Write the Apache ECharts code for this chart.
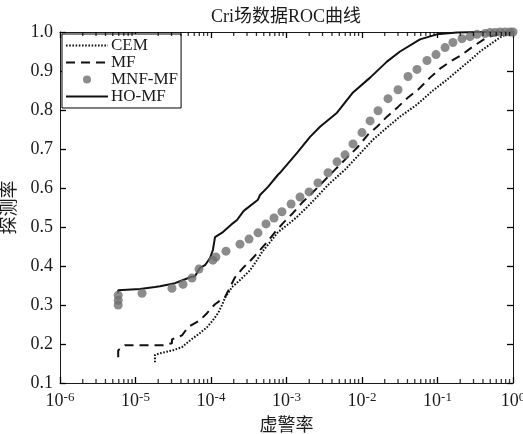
<!DOCTYPE html>
<html>
<head>
<meta charset="utf-8">
<script src="https://cdn.jsdelivr.net/npm/echarts@6/dist/echarts.min.js"></script>
<style>
html,body{margin:0;padding:0;background:#fff;}
#chart{width:523px;height:434px;}
</style>
</head>
<body>
<div id="chart"></div>
<script>
// ---- data (false alarm rate, detection rate) ----
const cemX = [1.81e-5,1.81e-5,2.11e-5,3.14e-5,4.13e-5,4.96e-5,5.78e-5,7.15e-5,8.85e-5,1.06e-4,1.24e-4,1.40e-4,1.53e-4,1.90e-4,2.42e-4,3.29e-4,4.07e-4,4.73e-4,6.04e-4,7.71e-4,1.02e-3,1.38e-3,1.87e-3,2.53e-3,3.55e-3,5.96e-3,8.59e-3,1.40e-2,2.14e-2,3.19e-2,5.35e-2,8.71e-2,0.134,0.199,0.269,0.366,0.496,0.673,0.833,1];
const cemY = [0.153,0.172,0.176,0.184,0.192,0.205,0.215,0.228,0.243,0.261,0.279,0.300,0.318,0.346,0.364,0.389,0.415,0.436,0.461,0.487,0.505,0.526,0.551,0.577,0.608,0.647,0.680,0.724,0.755,0.783,0.814,0.850,0.878,0.906,0.927,0.950,0.968,0.986,0.996,1.0];

const mfX = [5.9e-6,5.9e-6,7.3e-6,2.31e-5,3.04e-5,3.04e-5,4.13e-5,4.96e-5,7.15e-5,8.85e-5,1.13e-4,1.53e-4,2.08e-4,2.65e-4,3.49e-4,4.46e-4,5.52e-4,7.05e-4,9.0e-4,1.22e-3,1.60e-3,2.18e-3,2.95e-3,4.39e-3,6.33e-3,8.59e-3,1.2e-2,1.58e-2,2.14e-2,3.0e-2,4.07e-2,5.52e-2,7.96e-2,0.108,0.147,0.211,0.295,0.453,0.673,1];
const mfY = [0.166,0.184,0.197,0.197,0.202,0.212,0.222,0.243,0.261,0.279,0.302,0.320,0.371,0.395,0.418,0.441,0.461,0.487,0.510,0.536,0.562,0.587,0.613,0.647,0.678,0.703,0.737,0.757,0.783,0.808,0.832,0.852,0.883,0.906,0.924,0.942,0.963,0.986,0.996,1.0];

const mnfX = [5.9e-6,5.9e-6,5.9e-6,1.22e-5,3.04e-5,4.26e-5,5.6e-5,6.93e-5,1.06e-4,1.16e-4,1.58e-4,2.42e-4,3.19e-4,4.19e-4,5.35e-4,6.83e-4,8.7e-4,1.15e-3,1.51e-3,1.99e-3,2.61e-3,3.55e-3,4.67e-3,5.96e-3,7.6e-3,1.0e-2,1.28e-2,1.63e-2,2.21e-2,3.0e-2,4.07e-2,5.35e-2,7.26e-2,9.55e-2,0.126,0.160,0.211,0.269,0.333,0.426,0.496,0.578,0.673,0.784,0.912,1];
const mnfY = [0.300,0.312,0.325,0.330,0.343,0.353,0.369,0.392,0.415,0.423,0.438,0.456,0.469,0.485,0.508,0.523,0.539,0.559,0.577,0.590,0.613,0.639,0.667,0.685,0.713,0.742,0.772,0.798,0.829,0.852,0.886,0.904,0.927,0.942,0.960,0.973,0.983,0.988,0.994,0.996,0.999,0.999,1.0,1.0,1.0,1.0];

const hoX = [5.9e-6,5.9e-6,1.15e-5,1.81e-5,2.11e-5,3.34e-5,3.88e-5,4.53e-5,5.27e-5,6.14e-5,6.73e-5,7.15e-5,8.33e-5,9.7e-5,1.06e-4,1.13e-4,1.44e-4,1.96e-4,2.21e-4,2.65e-4,2.82e-4,4.19e-4,4.46e-4,5.69e-4,7.71e-4,8.2e-4,1.38e-3,2.05e-3,2.78e-3,4.67e-3,7.6e-3,1.28e-2,2.14e-2,3.19e-2,5.86e-2,9.85e-2,0.181,0.366,1];
const hoY = [0.330,0.338,0.341,0.346,0.348,0.356,0.361,0.366,0.371,0.374,0.387,0.395,0.402,0.420,0.441,0.474,0.487,0.510,0.518,0.539,0.544,0.570,0.582,0.603,0.634,0.639,0.690,0.731,0.757,0.793,0.845,0.883,0.924,0.950,0.981,0.994,0.999,1.0,1.0];

const seriesNames = ['CEM', 'MF', 'MNF-MF', 'HO-MF'];
const xExponents = [-6, -5, -4, -3, -2, -1, 0];
const minorMultipliers = [2, 3, 4, 5, 6, 7, 8, 9];
const yTickLabels = ['0.1','0.2','0.3','0.4','0.5','0.6','0.7','0.8','0.9','1.0'];
const titleText = 'Cri场数据ROC曲线';
const xName = '虚警率';
const yName = '探测率';

// ---- build ----
const zip = (xs, ys) => xs.map((x, i) => [x, ys[i]]);
const FONT = '"Liberation Serif", "Times New Roman", "Noto Sans CJK SC", serif';
const INK = '#1a1a1a';
const TICK = '#000';
const yMin = parseFloat(yTickLabels[0]);
const yMax = parseFloat(yTickLabels[yTickLabels.length - 1]);

const minorVals = [];
xExponents.slice(0, -1).forEach(e => minorMultipliers.forEach(m => minorVals.push(m * Math.pow(10, e))));

const chart = echarts.init(document.getElementById('chart'), null, {renderer: 'canvas'});

const commonY = {
  type: 'value', min: yMin, max: yMax, interval: 0.1,
  splitLine: {show: false},
  axisLine: {show: true, lineStyle: {color: INK, width: 1}},
  axisTick: {show: true, inside: true, length: 6, lineStyle: {color: TICK, width: 1.3}}
};
const commonX = {
  type: 'log', logBase: 10, min: Math.pow(10, xExponents[0]), max: Math.pow(10, xExponents[xExponents.length - 1]),
  splitNumber: 6,
  splitLine: {show: false},
  axisLine: {show: true, lineStyle: {color: INK, width: 1}},
  axisTick: {show: true, inside: true, length: 6, lineStyle: {color: TICK, width: 1.3}}
};

const minorTickSeries = (yVal, offset) => ({
  type: 'scatter', data: minorVals.map(v => [v, yVal]), silent: true, clip: false, z: 6,
  symbol: 'rect', symbolSize: [1.3, 4], symbolOffset: [0, offset],
  itemStyle: {color: TICK}, emphasis: {disabled: true}, tooltip: {show: false}
});

const option = {
  backgroundColor: '#fff',
  animation: false,
  title: {
    text: titleText, left: 286, top: 8, padding: 0, textAlign: 'center',
    textStyle: {fontFamily: FONT, fontSize: 18, fontWeight: 'normal', color: INK}
  },
  grid: {left: 60, right: 10, top: 32, bottom: 51, outerBoundsMode: 'none', containLabel: false},
  legend: {
    data: [
      {name: seriesNames[0], itemStyle: {opacity: 0}},
      {name: seriesNames[1], itemStyle: {opacity: 0}},
      {name: seriesNames[2]},
      {name: seriesNames[3], itemStyle: {opacity: 0}}
    ],
    orient: 'vertical', left: 62, top: 34,
    itemWidth: 42, itemHeight: 8, itemGap: 0,
    padding: [3, 3, 3, 3],
    borderColor: '#000', borderWidth: 1, borderRadius: 0, backgroundColor: '#fff',
    textStyle: {fontFamily: FONT, fontSize: 17, color: INK, padding: [0, 0, 0, -2]}
  },
  xAxis: [
    Object.assign({}, commonX, {
      position: 'bottom',
      name: xName, nameLocation: 'middle', nameGap: 34,
      nameTextStyle: {fontFamily: FONT, fontSize: 18, color: INK},
      axisLabel: {
        margin: 8, color: INK, fontFamily: FONT,
        formatter: v => '{b|10}{s|' + Math.round(Math.log10(v)) + '}',
        rich: {
          b: {fontFamily: FONT, fontSize: 18, color: INK, verticalAlign: 'bottom', lineHeight: 19},
          s: {fontFamily: FONT, fontSize: 13, color: INK, verticalAlign: 'top', lineHeight: 19}
        }
      }
    }),
    Object.assign({}, commonX, {position: 'top', axisLabel: {show: false}})
  ],
  yAxis: [
    Object.assign({}, commonY, {
      position: 'left',
      name: yName, nameLocation: 'middle', nameGap: 38, nameRotate: 90,
      nameTextStyle: {fontFamily: FONT, fontSize: 18, color: INK},
      axisLabel: {margin: 7, color: INK, fontFamily: FONT, fontSize: 18,
        formatter: v => yTickLabels[Math.round((v - yMin) * 10)] || v.toFixed(1)}
    }),
    Object.assign({}, commonY, {position: 'right', axisLabel: {show: false}})
  ],
  series: [
    {
      name: 'CEM', type: 'line', data: zip(cemX, cemY), symbol: 'none', showSymbol: false,
      lineStyle: {color: '#111', width: 2, type: [1.6, 1.6]}, itemStyle: {color: '#111'}, z: 3
    },
    {
      name: 'MF', type: 'line', data: zip(mfX, mfY), symbol: 'none', showSymbol: false,
      lineStyle: {color: '#111', width: 2, type: [9, 6]}, itemStyle: {color: '#111'}, z: 3
    },
    {
      name: 'MNF-MF', type: 'scatter', data: zip(mnfX, mnfY), symbol: 'circle', symbolSize: 9,
      itemStyle: {color: '#6f6f6f'}, z: 4
    },
    {
      name: 'HO-MF', type: 'line', data: zip(hoX, hoY), symbol: 'none', showSymbol: false,
      lineStyle: {color: '#111', width: 2}, itemStyle: {color: '#111'}, z: 3
    },
    minorTickSeries(yMin, -2),
    minorTickSeries(yMax, 2)
  ]
};
chart.setOption(option);
</script>
</body>
</html>
